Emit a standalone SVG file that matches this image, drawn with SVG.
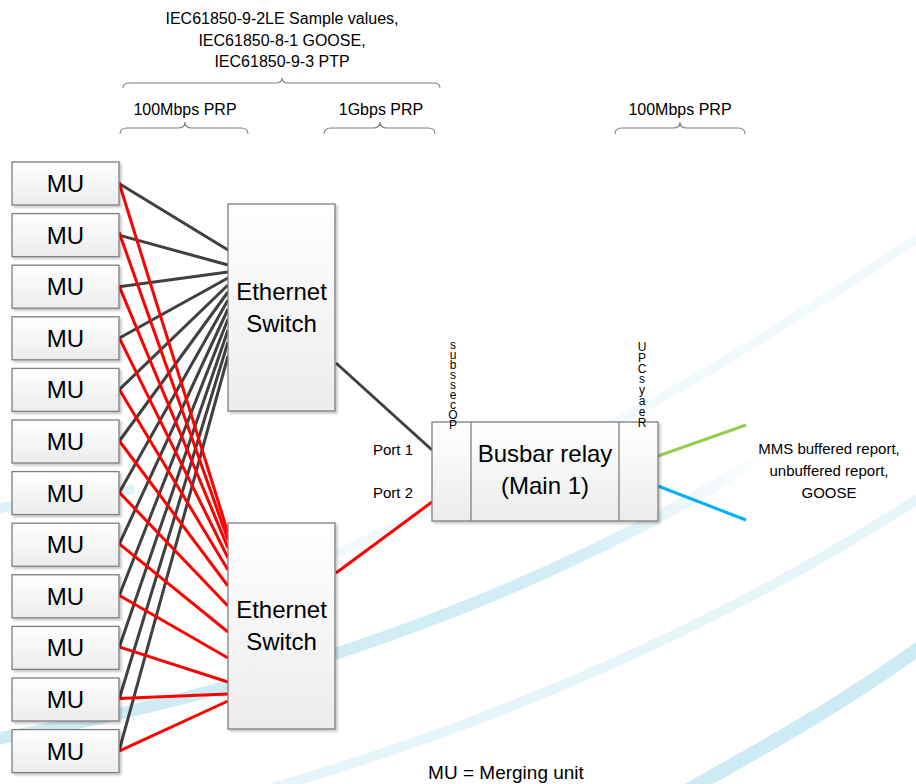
<svg xmlns="http://www.w3.org/2000/svg" width="916" height="784" viewBox="0 0 916 784">
<defs>
<linearGradient id="boxg" x1="0" y1="0" x2="0" y2="1">
<stop offset="0" stop-color="#ffffff"/>
<stop offset="1" stop-color="#ececec"/>
</linearGradient>
<linearGradient id="fadeA" x1="0" y1="0" x2="1" y2="0">
<stop offset="0" stop-color="#cdebf5" stop-opacity="1"/>
<stop offset="0.75" stop-color="#cdebf5" stop-opacity="0.9"/>
<stop offset="1" stop-color="#cdebf5" stop-opacity="0"/>
</linearGradient>
<filter id="sh" x="-10%" y="-10%" width="130%" height="130%">
<feDropShadow dx="2" dy="2" stdDeviation="1.2" flood-color="#000" flood-opacity="0.22"/>
</filter>
</defs>
<style>
.box{fill:url(#boxg);stroke:#7f7f7f;stroke-width:1.3;filter:url(#sh)}
.div{stroke:#7f7f7f;stroke-width:1.3;fill:none}
.lbl{font-family:"Liberation Sans",Arial,sans-serif;font-size:24px;fill:#000;text-anchor:middle}
.sm{font-family:"Liberation Sans",Arial,sans-serif;font-size:16px;fill:#000;text-anchor:middle}
.vt{font-family:"Liberation Sans",Arial,sans-serif;font-size:12px;fill:#000;writing-mode:vertical-rl;text-orientation:upright}
.brace{fill:none;stroke:#808080;stroke-width:1.1}
.blk{stroke:#404040;stroke-width:3;fill:none}
.red{stroke:#ff0000;stroke-width:3;fill:none}
.arc{fill:none;stroke:#cdebf5;stroke-linecap:round}
</style>
<rect x="0" y="0" width="916" height="784" fill="#ffffff"/>
<g id="background">
<path fill="none" stroke="url(#fadeA)" stroke-width="12" d="M -20,742 C 150,712 420,650 690,500 C 720,483 745,468 770,452"/>
<path class="arc" stroke-width="9" opacity="0.3" d="M 230,600 C 330,560 470,490 600,430 C 720,370 820,300 916,240"/>
<path class="arc" stroke-width="10" opacity="0.5" d="M 230,800 C 450,740 700,640 916,500"/>
<path class="arc" stroke-width="14" opacity="1" d="M 670,800 C 760,750 850,700 930,640"/>
<path class="arc" stroke-width="10" opacity="0.7" d="M -20,512 C 40,500 90,495 130,490"/>
</g>
<g id="braces">
<path class="brace" d="M 123,88 Q 123,83 130,83 L 275,83 Q 282,83 282,78 Q 282,83 289,83 L 433,83 Q 440,83 440,88"/>
<path class="brace" d="M 120,134 Q 120,128 127,128 L 178,128 Q 185,128 185,122 Q 185,128 192,128 L 241,128 Q 248,128 248,134"/>
<path class="brace" d="M 324,134 Q 324,128 331,128 L 373,128 Q 380,128 380,122 Q 380,128 387,128 L 428,128 Q 435,128 435,134"/>
<path class="brace" d="M 615,134 Q 615,128 622,128 L 673,128 Q 680,128 680,122 Q 680,128 687,128 L 738,128 Q 745,128 745,134"/>
</g>
<g id="header-text">
<text class="sm" x="282" y="24">IEC61850-9-2LE Sample values,</text>
<text class="sm" x="282" y="46">IEC61850-8-1 GOOSE,</text>
<text class="sm" x="282" y="67">IEC61850-9-3 PTP</text>
<text class="sm" x="185" y="115">100Mbps PRP</text>
<text class="sm" x="381" y="115">1Gbps PRP</text>
<text class="sm" x="680" y="115">100Mbps PRP</text>
</g>
<g id="connectors">
<line class="blk" x1="119" y1="183.5" x2="228" y2="250"/>
<line class="blk" x1="119" y1="235.1" x2="228" y2="265"/>
<line class="blk" x1="119" y1="286.7" x2="228" y2="272"/>
<line class="blk" x1="119" y1="338.3" x2="228" y2="278"/>
<line class="blk" x1="119" y1="389.9" x2="228" y2="285"/>
<line class="blk" x1="119" y1="441.5" x2="228" y2="292"/>
<line class="blk" x1="119" y1="493.1" x2="228" y2="300"/>
<line class="blk" x1="119" y1="544.7" x2="228" y2="309"/>
<line class="blk" x1="119" y1="596.3" x2="228" y2="319"/>
<line class="blk" x1="119" y1="647.9" x2="228" y2="330"/>
<line class="blk" x1="119" y1="699.5" x2="228" y2="342"/>
<line class="blk" x1="119" y1="751.1" x2="228" y2="356"/>
<line class="red" x1="119" y1="182.5" x2="228" y2="533"/>
<line class="red" x1="119" y1="232" x2="228" y2="540"/>
<line class="red" x1="119" y1="285.7" x2="228" y2="548"/>
<line class="red" x1="119" y1="337.3" x2="228" y2="558"/>
<line class="red" x1="119" y1="388.9" x2="228" y2="570"/>
<line class="red" x1="119" y1="440.5" x2="228" y2="586"/>
<line class="red" x1="119" y1="492.1" x2="228" y2="606"/>
<line class="red" x1="119" y1="543.7" x2="228" y2="632"/>
<line class="red" x1="119" y1="595.3" x2="228" y2="658"/>
<line class="red" x1="119" y1="646.9" x2="228" y2="682"/>
<line class="red" x1="119" y1="698.5" x2="228" y2="694"/>
<line class="red" x1="119" y1="751.1" x2="228" y2="701"/>
<line class="blk" x1="336" y1="363" x2="432" y2="450"/>
<line class="red" x1="336" y1="573" x2="432" y2="502"/>
<line stroke="#92d050" stroke-width="3" x1="658" y1="456" x2="746" y2="425"/>
<line stroke="#00b0f0" stroke-width="3" x1="658" y1="486" x2="746" y2="520"/>
</g>
<g id="mu1"><rect class="box" x="12" y="162" width="107" height="43"/><text class="lbl" x="65.5" y="192">MU</text></g>
<g id="mu2"><rect class="box" x="12" y="213.6" width="107" height="43"/><text class="lbl" x="65.5" y="243.6">MU</text></g>
<g id="mu3"><rect class="box" x="12" y="265.2" width="107" height="43"/><text class="lbl" x="65.5" y="295.2">MU</text></g>
<g id="mu4"><rect class="box" x="12" y="316.8" width="107" height="43"/><text class="lbl" x="65.5" y="346.8">MU</text></g>
<g id="mu5"><rect class="box" x="12" y="368.4" width="107" height="43"/><text class="lbl" x="65.5" y="398.4">MU</text></g>
<g id="mu6"><rect class="box" x="12" y="420" width="107" height="43"/><text class="lbl" x="65.5" y="450">MU</text></g>
<g id="mu7"><rect class="box" x="12" y="471.6" width="107" height="43"/><text class="lbl" x="65.5" y="501.6">MU</text></g>
<g id="mu8"><rect class="box" x="12" y="523.2" width="107" height="43"/><text class="lbl" x="65.5" y="553.2">MU</text></g>
<g id="mu9"><rect class="box" x="12" y="574.8" width="107" height="43"/><text class="lbl" x="65.5" y="604.8">MU</text></g>
<g id="mu10"><rect class="box" x="12" y="626.4" width="107" height="43"/><text class="lbl" x="65.5" y="656.4">MU</text></g>
<g id="mu11"><rect class="box" x="12" y="678" width="107" height="43"/><text class="lbl" x="65.5" y="708">MU</text></g>
<g id="mu12"><rect class="box" x="12" y="729.6" width="107" height="43"/><text class="lbl" x="65.5" y="759.6">MU</text></g>
<g id="switch1"><rect class="box" x="228" y="204" width="107" height="207"/><text class="lbl" x="281.5" y="300">Ethernet</text><text class="lbl" x="281.5" y="332">Switch</text></g>
<g id="switch2"><rect class="box" x="228" y="523" width="107" height="206"/><text class="lbl" x="281.5" y="618">Ethernet</text><text class="lbl" x="281.5" y="650">Switch</text></g>
<g id="relay">
<rect class="box" x="432" y="422" width="226" height="99"/>
<line class="div" x1="471" y1="422" x2="471" y2="521"/>
<line class="div" x1="619" y1="422" x2="619" y2="521"/>
<text class="lbl" x="545" y="462">Busbar relay</text>
<text class="lbl" x="545" y="494">(Main 1)</text>
<text class="vt" x="453" y="338" style="letter-spacing:-4px">subssecOP</text>
<text class="vt" x="642" y="340" style="letter-spacing:-3.2px">UPCsyaeR</text>
</g>
<g id="labels">
<text class="sm" x="393" y="455" style="font-size:15px">Port 1</text>
<text class="sm" x="393" y="498" style="font-size:15px">Port 2</text>
<text class="sm" x="829" y="454" style="font-size:15px">MMS buffered report,</text>
<text class="sm" x="829" y="476" style="font-size:15px">unbuffered report,</text>
<text class="sm" x="829" y="498" style="font-size:15px">GOOSE</text>
<text class="sm" x="506" y="779" style="font-size:19px">MU = Merging unit</text>
</g>
</svg>
